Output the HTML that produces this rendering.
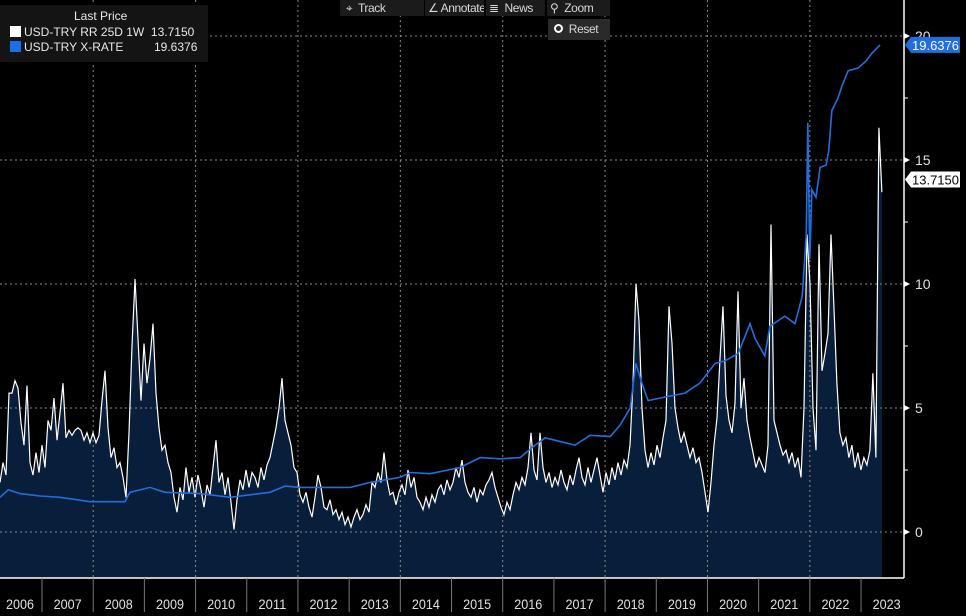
<!DOCTYPE html>
<html><head><meta charset="utf-8">
<style>
html,body{margin:0;padding:0;background:#000;width:966px;height:616px;overflow:hidden;font-family:"Liberation Sans Narrow","Liberation Sans",sans-serif;}
svg{position:absolute;left:0;top:0}
.tb{position:absolute;top:0;height:16px;background:#1b1b1b;color:#d8d8d8;font-size:12px;line-height:16px;padding:0 3px;box-sizing:border-box;white-space:nowrap;overflow:hidden;letter-spacing:-0.4px}
</style></head>
<body>
<svg id="chart" width="966" height="616" xmlns="http://www.w3.org/2000/svg"></svg>

<div style="position:absolute;left:0;top:5px;width:208px;height:57px;background:#141414;color:#e8e8e8;font-size:12px;">
  <div style="position:absolute;left:74px;top:4px;">Last Price</div>
  <div style="position:absolute;left:10px;top:20px;white-space:nowrap;"><span style="display:inline-block;width:11px;height:11px;background:#fff;vertical-align:-1px;margin-right:3px"></span>USD-TRY RR 25D 1W&nbsp;&nbsp;13.7150</div>
  <div style="position:absolute;left:10px;top:35px;white-space:nowrap;"><span style="display:inline-block;width:11px;height:11px;background:#1a6fe8;vertical-align:-1px;margin-right:3px"></span>USD-TRY X-RATE<span style="position:absolute;left:144px">19.6376</span></div>
</div>

<div class="tb" style="left:340px;width:84px;">&nbsp;⌖&nbsp; Track</div>
<div class="tb" style="left:425px;width:59px;">∠ Annotate</div>
<div class="tb" style="left:486px;width:59px;">≣&nbsp; News</div>
<div class="tb" style="left:547px;width:63px;">⚲&nbsp; Zoom</div>
<div class="tb" style="left:548px;top:19px;height:21px;line-height:21px;width:62px;background:#2a2a2a">&nbsp;<span style="display:inline-block;width:5px;height:5px;border:2px solid #fff;border-radius:50%;vertical-align:0px;background:#2a2a2a"></span>&nbsp; Reset</div>

<script>
const years = [2006,2007,2008,2009,2010,2011,2012,2013,2014,2015,2016,2017,2018,2019,2020,2021,2022,2023];
const yTicks = [0,5,10,15,20];
const rrStart = 2006.18;
const rrStepYears = 0.0586;
const rrValues = [2.0,2.8,2.3,5.6,5.6,6.1,5.8,4.4,3.5,5.9,2.8,2.3,3.2,2.4,3.5,2.6,4.5,4.1,5.4,3.7,4.8,6.0,3.8,4.1,3.9,4.1,4.2,4.1,3.7,4.0,3.6,4.0,3.6,3.9,5.3,6.5,4.2,3.0,3.4,2.6,2.8,2.2,1.4,4.0,7.5,10.2,7.8,5.3,7.6,6.0,7.0,8.4,5.6,4.2,3.3,3.5,2.8,2.4,1.4,0.8,1.8,1.3,2.6,1.6,2.2,1.4,2.3,1.7,1.0,1.9,1.5,2.6,3.7,2.0,2.4,1.5,2.2,1.2,0.1,1.3,2.1,1.7,2.5,1.8,2.4,2.2,1.8,2.6,2.1,2.7,3.0,3.6,4.2,5.0,6.2,4.5,4.0,3.5,2.6,2.4,1.5,1.2,1.6,1.0,0.6,1.4,2.3,1.8,1.0,0.9,1.3,0.7,0.9,0.5,0.8,0.3,0.6,0.2,0.6,0.9,0.5,0.7,1.1,0.8,2.0,1.8,2.4,2.0,3.2,2.1,1.5,1.6,1.1,1.6,1.9,1.5,2.5,1.8,2.2,1.4,1.2,0.9,1.4,1.0,1.5,1.2,1.7,1.9,1.5,2.1,1.7,2.0,2.6,2.2,2.9,2.0,1.6,1.4,1.8,1.2,1.7,1.5,1.9,2.1,2.4,1.8,1.4,1.0,0.7,1.2,0.9,1.5,2.0,1.7,2.2,1.9,2.6,4.0,2.5,2.1,4.0,2.6,2.0,2.4,1.8,2.2,1.9,2.5,2.0,1.7,2.3,1.9,2.5,3.0,2.2,1.9,2.6,2.0,2.5,3.0,2.3,1.6,2.4,1.9,2.6,2.1,2.8,2.3,2.9,2.6,3.5,6.0,10.0,8.5,5.0,3.3,2.6,3.2,2.7,3.5,3.0,3.8,4.5,9.1,7.6,5.0,4.2,3.6,4.0,3.5,3.0,3.4,2.8,3.0,2.4,1.6,0.8,2.0,3.5,4.6,7.0,9.1,5.5,4.5,4.0,5.2,9.7,5.0,6.2,4.5,3.8,3.2,2.6,3.0,2.7,2.4,3.5,12.4,4.5,4.0,3.5,3.1,3.3,2.8,3.2,2.6,3.0,2.2,5.0,12.0,10.0,5.0,3.3,11.6,6.5,7.2,8.0,12.0,9.0,6.0,4.0,3.5,3.8,3.0,3.5,2.6,3.2,2.5,3.0,2.7,3.3,6.4,3.0,16.3,13.7];
const fxDates = [2006.18,2006.34,2006.57,2006.96,2007.35,2007.94,2008.62,2008.72,2009.11,2009.40,2010.09,2010.67,2011.06,2011.45,2011.75,2012.04,2013.02,2013.41,2013.99,2014.19,2014.58,2015.17,2015.56,2015.95,2016.34,2016.63,2016.83,2017.02,2017.41,2017.71,2018.10,2018.29,2018.49,2018.60,2018.72,2018.84,2019.07,2019.56,2019.85,2020.15,2020.34,2020.60,2020.83,2020.93,2021.12,2021.22,2021.51,2021.71,2021.85,2021.93,2021.96,2022.00,2022.04,2022.12,2022.20,2022.32,2022.37,2022.43,2022.55,2022.63,2022.75,2022.94,2023.10,2023.21,2023.37];
const fxValues = [1.40,1.70,1.55,1.45,1.40,1.22,1.22,1.60,1.80,1.60,1.55,1.40,1.50,1.60,1.85,1.80,1.80,2.00,2.20,2.40,2.35,2.60,3.00,2.95,3.00,3.50,3.80,3.70,3.50,3.90,3.85,4.30,5.00,6.80,6.00,5.30,5.40,5.60,6.00,6.80,6.90,7.20,8.40,7.80,7.10,8.30,8.70,8.40,9.50,12.0,16.5,11.0,13.8,13.5,14.7,14.8,15.4,17.0,17.5,18.0,18.6,18.7,19.0,19.3,19.64];
const lastRR = "13.7150", lastFX = "19.6376";

const NS="http://www.w3.org/2000/svg";
const svg=document.getElementById('chart');
const FONT='"Liberation Sans Narrow","Liberation Sans",sans-serif';
const X = t => 42 + (t-2007)*51.19;
const Y = v => 532 - v*24.8;
const AX_R=904, AX_B=578;
function el(tag, attrs, parent){const e=document.createElementNS(NS,tag);for(const k in attrs)e.setAttribute(k,attrs[k]);(parent||svg).appendChild(e);return e;}

const rrDates = rrValues.map((v,i)=>rrStart+i*rrStepYears);
let d='M'+X(rrDates[0]).toFixed(1)+','+AX_B;
rrValues.forEach((v,i)=>{d+=' L'+X(rrDates[i]).toFixed(1)+','+Y(v).toFixed(1);});
d+=' L'+X(rrDates[rrDates.length-1]).toFixed(1)+','+AX_B+' Z';
const area=el('path',{d:d,fill:'#081e3a'});



yTicks.forEach(v=>{
  const g=el('line',{x1:0,x2:AX_R,y1:Y(v),y2:Y(v),stroke:'#8a8a8a','stroke-width':1,'stroke-dasharray':'2,3'});
  
  
});
years.forEach(yr=>{
  if(yr%2===0 && yr>2006){
    const g=el('line',{x1:X(yr),x2:X(yr),y1:0,y2:AX_B,stroke:'#8a8a8a','stroke-width':1,'stroke-dasharray':'2,3'});
    
    
  }
});

const rrLine=el('polyline',{points:rrValues.map((v,i)=>X(rrDates[i]).toFixed(1)+','+Y(v).toFixed(1)).join(' '),fill:'none',stroke:'#fff','stroke-width':1.2});


const fxLine=el('polyline',{points:fxValues.map((v,i)=>X(fxDates[i]).toFixed(1)+','+Y(v).toFixed(1)).join(' '),fill:'none',stroke:'#1f6fe0','stroke-width':1.6});



const ra=el('line',{x1:AX_R,x2:AX_R,y1:0,y2:AX_B,stroke:'#fff','stroke-width':1.5});


yTicks.forEach(v=>{
  const tk=el('path',{d:`M${AX_R},${Y(v)-3} L${AX_R+6},${Y(v)} L${AX_R},${Y(v)+3} Z`,fill:'#fff'});
  
  
  const t=el('text',{x:AX_R+11,y:Y(v)+5,fill:'#e0e0e0','font-size':14,'font-family':FONT});
  t.textContent=v;
  
  
});
for(let v=2.5;v<20;v+=5){
  const m=el('line',{x1:AX_R,x2:AX_R+4,y1:Y(v),y2:Y(v),stroke:'#fff'});
  
  
}
function tag(v,txt,bg,fg,name){
  const y=Y(v);
  const g=el('path',{d:`M${AX_R+1},${y} L${AX_R+7},${y-8} L960,${y-8} L960,${y+8} L${AX_R+7},${y+8} Z`,fill:bg});
  
  
  const t=el('text',{x:AX_R+8,y:y+5,fill:fg,'font-size':13,'font-family':FONT,textLength:47,lengthAdjust:'spacingAndGlyphs'});
  t.textContent=txt;
  
  
}
tag(fxValues[fxValues.length-1],lastFX,'#1f6fe0','#fff','xrate-last-tag');
tag(13.715+0.5,lastRR,'#fff','#000','rr-last-tag');

const ba=el('line',{x1:0,x2:AX_R,y1:AX_B,y2:AX_B,stroke:'#fff','stroke-width':1.5});


years.forEach(yr=>{
  if(yr>2006){
    const s=el('line',{x1:X(yr),x2:X(yr),y1:AX_B,y2:612,stroke:'#777'});
    
    
  }
  const cx=X(yr)+25.6;
  const t=el('text',{x:Math.max(cx,20),y:609,fill:'#e0e0e0','font-size':14,'text-anchor':'middle','font-family':FONT,textLength:28,lengthAdjust:'spacingAndGlyphs'});
  t.textContent=yr;
  
  
});
</script>
</body></html>
